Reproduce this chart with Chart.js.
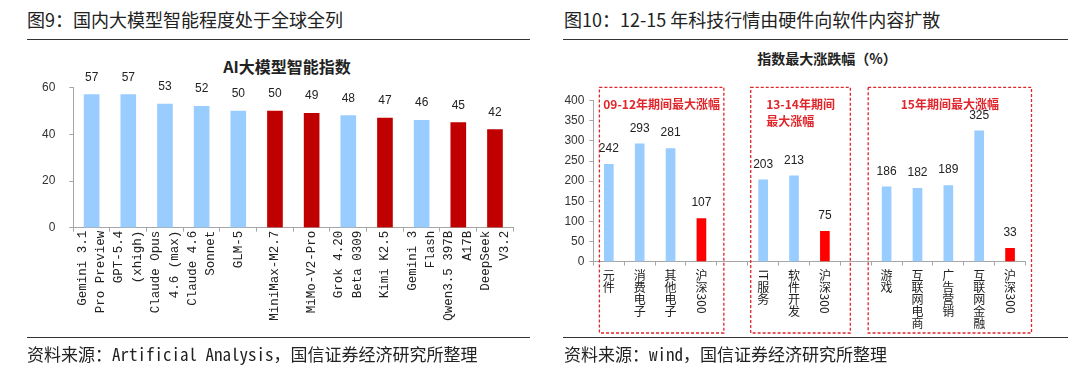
<!DOCTYPE html>
<html lang="zh-CN">
<head>
<meta charset="UTF-8">
<title>图9 / 图10</title>
<script src="https://cdn.jsdelivr.net/npm/chart.js@4.4.1/dist/chart.umd.min.js"></script>
<style>
    html, body { margin: 0; padding: 0; background: #fff; }
    body { width: 1080px; height: 377px; position: relative; overflow: hidden; font-family: "Noto Sans CJK SC", sans-serif; color: #222; }
    .title { position: absolute; top: 8px; font-size: 18px; line-height: 22px; white-space: nowrap; }
    .rule { position: absolute; height: 0; border-top: 1.5px solid #333; }
    .source { position: absolute; top: 344px; font-size: 17px; line-height: 20px; white-space: nowrap;
              font-family: "Noto Sans Mono CJK SC", "Noto Sans CJK SC", monospace; }
    .subtitle { position: absolute; font-weight: bold; line-height: 18px; white-space: nowrap; transform: translateX(-50%); }
    .panel { position: absolute; top: 0; width: 540px; height: 377px; }
</style>
</head>
<body>
<div class="title" style="left:27px">图9：国内大模型智能程度处于全球全列</div>
<div class="rule" style="left:27px; width:503px; top:38.5px"></div>
<div class="subtitle" style="left:287px; top:57px; font-size:16px">AI大模型智能指数</div>
<div class="panel" style="left:0"><canvas id="graficoModelos"></canvas></div>
<div class="rule" style="left:27px; width:503px; top:336.5px"></div>
<div class="source" style="left:27px">资料来源：Artificial Analysis，国信证券经济研究所整理</div>

<div class="title" style="left:564px">图10：12-15 年科技行情由硬件向软件内容扩散</div>
<div class="rule" style="left:563px; width:505px; top:38.5px"></div>
<div class="subtitle" style="left:827px; top:49px; font-size:14px">指数最大涨跌幅（%）</div>
<div class="panel" style="left:540px"><canvas id="graficoSetores"></canvas></div>
<div class="rule" style="left:563px; width:505px; top:336.5px"></div>
<div class="source" style="left:564px">资料来源：wind，国信证券经济研究所整理</div>

<script>
// Dados - figura 9
const modelNames = [
    ['Gemini 3.1', 'Pro Preview'], ['GPT-5.4', '(xhigh)'], ['Claude Opus', '4.6 (max)'],
    ['Claude 4.6', 'Sonnet'], ['GLM-5'], ['MiniMax-M2.7'], ['MiMo-V2-Pro'],
    ['Grok 4.20', 'Beta 0309'], ['Kimi K2.5'], ['Gemini 3', 'Flash'],
    ['Qwen3.5 397B', 'A17B'], ['DeepSeek', 'V3.2']
];
const modelScores = [57, 57, 53, 52, 50, 50, 49, 48, 47, 46, 45, 42];
const highlighted = ['MiniMax-M2.7', 'MiMo-V2-Pro', 'Kimi K2.5', 'Qwen3.5 397B A17B', 'DeepSeek V3.2'];
const scoreTicks = [0, 20, 40, 60];

// Dados - figura 10
const sectorNames = ['元件', '消费电子', '其他电子', '沪深300', '', 'IT服务', '软件开发', '沪深300', '',
                     '游戏', '互联网电商', '广告营销', '互联网金融', '沪深300'];
const sectorMaxGain = [242, 293, 281, 107, null, 203, 213, 75, null, 186, 182, 189, 325, 33];
const benchmark = '沪深300';
const gainTicks = [0, 50, 100, 150, 200, 250, 300, 350, 400];
const periodFrom = [0, 5, 9];
const periodTo = [3, 7, 13];
const periodTitles = [['09-12年期间最大涨幅'], ['13-14年期间', '最大涨幅'], ['15年期间最大涨幅']];

const BLUE = '#99CCFF';
const AXIS = '#A6A6A6';
const TICK_FONT = { family: "'Liberation Sans', Arial, sans-serif", size: 12 };

// rótulos de valor acima das barras
const valueLabels = {
    id: 'valueLabels',
    afterDatasetsDraw(chart, args, opts) {
        const ctx = chart.ctx;
        const data = chart.data.datasets[0].data;
        ctx.save();
        ctx.font = opts.font;
        ctx.fillStyle = '#222';
        ctx.textAlign = 'center';
        ctx.textBaseline = 'middle';
        chart.getDatasetMeta(0).data.forEach((bar, i) => {
            if (data[i] == null) return;
            ctx.fillText(data[i], bar.x, bar.y - opts.offset);
        });
        ctx.restore();
    }
};

// rótulos do eixo x girados, linhas centradas no tick
const rotatedTicks = {
    id: 'rotatedTicks',
    afterDraw(chart, args, opts) {
        const ctx = chart.ctx, xs = chart.scales.x;
        ctx.save();
        ctx.font = opts.font;
        ctx.fillStyle = opts.color;
        ctx.textAlign = 'right';
        ctx.textBaseline = 'middle';
        chart.data.labels.forEach((lines, i) => {
            const cx = xs.getPixelForValue(i);
            lines.forEach((line, j) => {
                ctx.save();
                ctx.translate(cx + (j - (lines.length - 1) / 2) * opts.lineHeight, xs.top + opts.top);
                ctx.rotate(-Math.PI / 2);
                ctx.fillText(line, 0, 0);
                ctx.restore();
            });
        });
        ctx.restore();
    }
};

// rótulos verticais (chinês em pé, números girados)
const verticalTicks = {
    id: 'verticalTicks',
    afterDraw(chart, args, opts) {
        const ctx = chart.ctx, xs = chart.scales.x;
        ctx.save();
        ctx.font = opts.font;
        ctx.fillStyle = opts.color;
        ctx.textAlign = 'center';
        ctx.textBaseline = 'middle';
        chart.data.labels.forEach((label, i) => {
            if (!label) return;
            const cx = xs.getPixelForValue(i);
            let y = xs.top + opts.top;
            (label.match(/[A-Za-z0-9]+|./g) || []).forEach(part => {
                if (/^[A-Za-z0-9]+$/.test(part)) {
                    const w = ctx.measureText(part).width;
                    ctx.save();
                    ctx.translate(cx, y + w / 2);
                    ctx.rotate(Math.PI / 2);
                    ctx.fillText(part, 0, 0);
                    ctx.restore();
                    y += w + 1;
                } else {
                    ctx.fillText(part, cx, y + opts.step / 2);
                    y += opts.step;
                }
            });
        });
        ctx.restore();
    }
};

// caixas tracejadas dos períodos
const periodFrames = {
    id: 'periodFrames',
    afterDraw(chart, args, opts) {
        const ctx = chart.ctx, xs = chart.scales.x, ys = chart.scales.y;
        const half = xs.width / chart.data.labels.length / 2;
        ctx.save();
        periodFrom.forEach((from, k) => {
            const pad = opts.pads[k];
            const left = xs.getPixelForValue(from) - half + pad[0];
            const right = xs.getPixelForValue(periodTo[k]) + half + pad[1];
            const top = ys.top - opts.above;
            const bottom = xs.top + opts.below;
            ctx.strokeStyle = opts.color;
            ctx.lineWidth = 1.3;
            ctx.setLineDash([3, 2]);
            ctx.strokeRect(left, top, right - left, bottom - top);

            ctx.font = opts.font;
            ctx.fillStyle = opts.color;
            ctx.textAlign = 'left';
            ctx.textBaseline = 'middle';
            const lines = periodTitles[k];
            const w = Math.max(...lines.map(t => ctx.measureText(t).width));
            const tx = (left + right) / 2 - w / 2;
            lines.forEach((t, n) => ctx.fillText(t, tx, top + opts.textTop + n * opts.lineHeight));
        });
        ctx.restore();
    }
};

function axisY(ticks, width, padding) {
    return {
        min: ticks[0],
        max: ticks[ticks.length - 1],
        afterBuildTicks: s => { s.ticks = ticks.map(v => ({ value: v })); },
        afterFit: s => { s.width = width; },
        border: { color: AXIS },
        grid: { drawOnChartArea: false, tickLength: 4, color: AXIS },
        ticks: { color: '#333', font: TICK_FONT, padding: padding }
    };
}

function axisX(height) {
    return {
        afterFit: s => { s.height = height; },
        border: { color: AXIS },
        grid: { drawOnChartArea: false, tickLength: 4, color: AXIS, offset: true },
        ticks: { display: false }
    };
}

// Figura 9
new Chart(document.getElementById('graficoModelos'), {
    type: 'bar',
    data: {
        labels: modelNames,
        datasets: [{
            data: modelScores,
            backgroundColor: modelNames.map(n => highlighted.includes(n.join(' ')) ? '#C00000' : BLUE),
            barThickness: 15
        }]
    },
    options: {
        responsive: true,
        maintainAspectRatio: false,
        animation: false,
        layout: { padding: { top: 87.7, right: 26.7, bottom: 0, left: 0 } },
        scales: { x: axisX(149.3), y: axisY(scoreTicks, 73.3, 14) },
        plugins: {
            legend: { display: false },
            tooltip: { enabled: false },
            valueLabels: { offset: 17.5, font: "12px 'Liberation Sans', Arial, sans-serif" },
            rotatedTicks: { font: "12.5px 'Liberation Mono', 'DejaVu Sans Mono', monospace", color: '#222', lineHeight: 18.5, top: 3 }
        }
    },
    plugins: [valueLabels, rotatedTicks]
});

// Figura 10
new Chart(document.getElementById('graficoSetores'), {
    type: 'bar',
    data: {
        labels: sectorNames,
        datasets: [{
            data: sectorMaxGain,
            backgroundColor: sectorNames.map(n => n === benchmark ? '#FF0000' : BLUE),
            barThickness: 9
        }]
    },
    options: {
        responsive: true,
        maintainAspectRatio: false,
        animation: false,
        layout: { padding: { top: 100.7, right: 54.5, bottom: 0, left: 0 } },
        scales: { x: axisX(115.4), y: axisY(gainTicks, 53.4, 5) },
        plugins: {
            legend: { display: false },
            tooltip: { enabled: false },
            valueLabels: { offset: 15.5, font: "12px 'Liberation Sans', Arial, sans-serif" },
            verticalTicks: { font: "12px 'Noto Sans CJK SC', sans-serif", color: '#222', top: 8, step: 12 },
            periodFrames: {
                color: '#E0262B',
                font: "bold 12px 'Noto Sans CJK SC', sans-serif",
                pads: [[6, 7], [3, 10], [-3, 6]],
                above: 13.4, below: 71.4, textTop: 17, lineHeight: 16.7
            }
        }
    },
    plugins: [valueLabels, verticalTicks, periodFrames]
});
</script>
</body>
</html>
